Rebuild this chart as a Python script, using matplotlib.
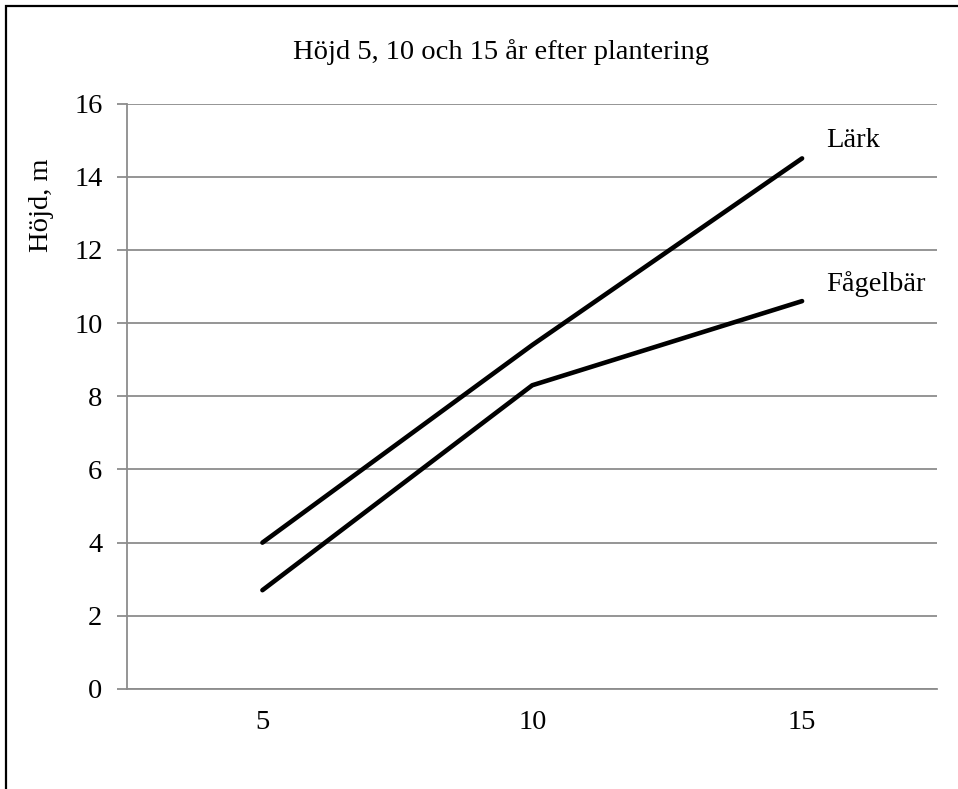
import matplotlib
matplotlib.use("Agg")
import matplotlib.pyplot as plt
from matplotlib.patches import Rectangle

# data
years = ["5", "10", "15"]
lark = [4.0, 9.4, 14.5]
fagelbar = [2.7, 8.3, 10.6]
series_names = ["Lärk", "Fågelbär"]
yticks = [0, 2, 4, 6, 8, 10, 12, 14, 16]

plt.rcParams["font.family"] = ["Liberation Serif", "DejaVu Serif"]
FS = 20.5

W, H = 958, 789
fig = plt.figure(figsize=(W / 100, H / 100), dpi=100)
fig.patch.set_facecolor("white")

# outer chart frame (only left/top fall inside the image)
fig.patches.append(Rectangle((6 / W, -0.05), 1.2, 1 - 6 / H + 0.05,
                             transform=fig.transFigure, fill=False,
                             edgecolor="black", linewidth=1.6, zorder=0))

left, right = 127.5 / W, 937 / W
bottom, top = 1 - 689 / H, 1 - 103.5 / H
ax = fig.add_axes([left, bottom, right - left, top - bottom])

x = range(len(years))
for vals in (lark, fagelbar):
    ax.plot(x, vals, color="black", lw=3.3, solid_capstyle="round",
            solid_joinstyle="round", zorder=3)

ax.set_xlim(-0.5, len(years) - 0.5)
ax.set_ylim(0, 16)
ax.set_yticks(yticks)
ax.set_xticks(list(x))
ax.set_xticklabels(years)
ax.yaxis.grid(True, color="#8c8c8c", lw=1.3)
ax.set_axisbelow(True)
for s in ("top", "right"):
    ax.spines[s].set_visible(False)
for s in ("left", "bottom"):
    ax.spines[s].set_color("#8c8c8c")
    ax.spines[s].set_linewidth(1.3)
ax.tick_params(axis="y", length=7, width=1.3, color="#8c8c8c",
               labelsize=FS, pad=11)
ax.tick_params(axis="x", length=0, labelsize=FS, pad=15)

# series labels at the line ends
ax.annotate(series_names[0], (len(years) - 1, lark[-1]), xytext=(17, 13),
            textcoords="offset points", fontsize=FS, va="center")
ax.annotate(series_names[1], (len(years) - 1, fagelbar[-1]), xytext=(17, 12),
            textcoords="offset points", fontsize=FS, va="center")

fig.text(501 / W, 1 - 52 / H, "Höjd 5, 10 och 15 år efter plantering",
         ha="center", va="center", fontsize=FS)
fig.text(42 / W, 1 - 205 / H, "Höjd, m", rotation=90,
         ha="center", va="center", fontsize=FS)

fig.savefig("out.png", dpi=100, facecolor="white")
